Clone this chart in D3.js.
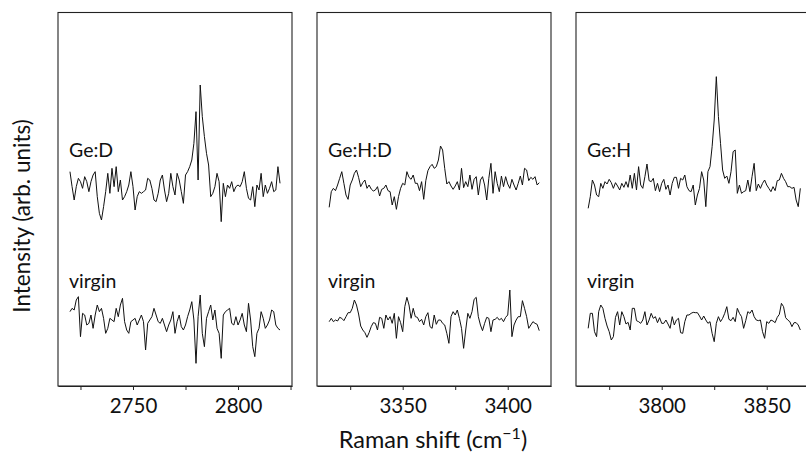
<!DOCTYPE html>
<html><head><meta charset="utf-8">
<script src="https://cdn.jsdelivr.net/npm/d3@7"></script>
<style>body{margin:0;background:#fff}text{font-family:Lato,"Open Sans",sans-serif;fill:#111}</style>
</head><body><svg id="c" width="806" height="454"></svg>
<script>
// ---- data (intensity in arbitrary units, 1 cm^-1 sampling) ----
const sampleNames = ["Ge:D", "Ge:H:D", "Ge:H"];
const refName = "virgin";
const shiftStart = [2720, 3315, 3765];
const shiftDomains = [[2714.3, 2825.7], [3309.2, 3420.6], [3759.2, 3870.6]];
const majorTicks = [[2750, 2800], [3350, 3400], [3800, 3850]];
const minorTicks = [[2725, 2775, 2825], [3325, 3375], [3775, 3825]];

const geD = [643,598,558,598,623,613,593,628,613,583,613,633,643,568,518,498,538,583,638,578,
  653,598,658,583,618,558,568,583,603,643,598,528,568,583,578,583,588,623,618,593,
  558,553,578,618,633,588,553,578,638,598,573,638,618,583,548,633,643,658,678,728,
  823,618,903,808,748,698,663,568,578,598,638,613,493,608,568,603,593,613,583,598,
  603,598,613,643,593,563,558,598,538,603,588,638,568,603,578,593,613,583,588,658,608];
const virginD = [223,233,228,258,268,148,218,213,183,188,213,173,213,243,223,233,203,158,173,203,
  198,193,233,208,243,263,193,168,158,193,198,203,183,198,213,193,108,188,198,208,
  233,213,193,188,203,183,163,183,198,223,158,193,213,178,168,183,208,228,253,198,
  68,208,273,158,118,203,223,243,198,228,173,158,83,213,223,228,233,188,183,208,
  183,198,218,183,163,248,198,118,88,158,173,223,203,173,183,198,228,223,183,173,168];
const geHD = [536,583,593,586,603,623,643,608,573,560,603,618,638,648,626,598,610,618,593,603,
  591,585,588,598,570,590,593,603,586,583,543,568,530,568,593,608,603,643,626,620,
  633,608,608,586,613,560,616,646,658,665,653,658,678,720,708,653,606,613,600,590,
  600,613,588,653,595,613,598,633,590,620,628,573,618,628,603,558,623,668,578,643,
  608,583,630,598,628,606,593,620,603,588,608,630,603,653,648,616,626,620,628,603,610];
const virginHD = [193,203,193,198,195,206,203,196,208,220,220,233,258,243,216,180,168,160,146,160,
  178,190,188,168,206,203,173,213,198,208,188,218,143,208,190,163,238,266,243,203,
  233,208,206,193,200,183,208,220,178,173,213,185,198,198,188,183,158,128,208,223,
  213,228,203,173,113,168,218,203,223,260,266,208,183,166,188,206,203,163,198,200,
  206,198,203,193,206,213,288,148,183,198,208,208,256,233,208,173,183,193,188,185,166];
const geH = [533,568,618,603,573,568,608,593,613,606,620,610,593,610,600,588,608,596,613,596,
  633,593,638,588,658,603,593,628,666,616,613,623,586,608,583,608,620,590,603,573,
  608,626,626,593,623,618,633,598,586,583,603,543,573,593,643,618,538,643,658,718,
  798,928,808,728,648,623,630,608,643,703,708,578,603,578,583,586,618,583,628,668,
  586,606,593,608,618,603,593,583,598,586,616,618,638,623,613,598,598,593,596,558,538,593];
const virginH = [173,218,218,163,148,223,243,233,203,180,163,138,148,206,223,183,223,208,186,191,
  168,233,233,196,193,188,198,223,183,198,218,203,208,190,205,188,188,198,186,173,
  208,183,198,203,160,158,193,213,213,218,221,220,220,210,198,210,198,188,193,158,
  133,188,208,193,203,218,238,200,196,206,193,233,218,208,173,196,223,218,228,208,
  198,196,198,163,143,193,188,198,195,190,206,215,248,238,205,198,193,178,190,190,183,168];

const sampleSeries = [geD, geHD, geH];
const virginSeries = [virginD, virginHD, virginH];

// ---- layout ----
const panelLeft = [58, 317, 576], panelW = 234;
const plotTop = 12.5, plotBottom = 386;
const svg = d3.select("#c");
const yScale = d3.scaleLinear().domain([0, 1122]).range([plotBottom, 12]);

sampleNames.forEach((name, p) => {
  const x = d3.scaleLinear().domain(shiftDomains[p]).range([panelLeft[p], panelLeft[p] + panelW]);
  const g = svg.append("g");
  g.append("rect").attr("x", panelLeft[p]).attr("y", plotTop).attr("width", panelW).attr("height", plotBottom - plotTop)
    .attr("fill", "none").attr("stroke", "#222").attr("stroke-width", 1.1);
  const ax = d3.axisBottom(x).tickValues(majorTicks[p].concat(minorTicks[p]).filter(t => t <= shiftDomains[p][1]))
    .tickSize(4).tickSizeOuter(0)
    .tickFormat(d => majorTicks[p].includes(d) ? d3.format("d")(d) : "");
  const ag = g.append("g").attr("transform", `translate(0,${plotBottom})`).call(ax);
  ag.select(".domain").attr("stroke", "#222").attr("stroke-width", 1.1);
  ag.selectAll(".tick line").attr("stroke", "#222");
  ag.selectAll(".tick text").attr("font-size", 20.5).attr("y", 27).attr("dy", 0)
    .style("font-family", "Lato, sans-serif").attr("fill", "#111");
  const line = d3.line().x((d, i) => x(shiftStart[p] + i)).y(d => yScale(d));
  g.append("path").datum(sampleSeries[p]).attr("d", line).attr("fill", "none")
    .attr("stroke", "#111").attr("stroke-width", 1);
  g.append("path").datum(virginSeries[p]).attr("d", line).attr("fill", "none")
    .attr("stroke", "#111").attr("stroke-width", 1);
  g.append("text").attr("x", panelLeft[p] + 11).attr("y", 157).attr("font-size", 19.5).text(name);
  g.append("text").attr("x", panelLeft[p] + 11).attr("y", 288).attr("font-size", 19.5).text(refName);
});

svg.append("text").attr("transform", "translate(30,216) rotate(-90)").attr("text-anchor", "middle")
  .attr("font-size", 22.5).text("Intensity (arb. units)");
const xt = svg.append("text").attr("x", 433).attr("y", 448).attr("text-anchor", "middle").attr("font-size", 23.5);
xt.append("tspan").text("Raman shift (cm");
xt.append("tspan").attr("font-size", 16).attr("dy", -9).text("−1");
xt.append("tspan").attr("dy", 9).text(")");
</script></body></html>
